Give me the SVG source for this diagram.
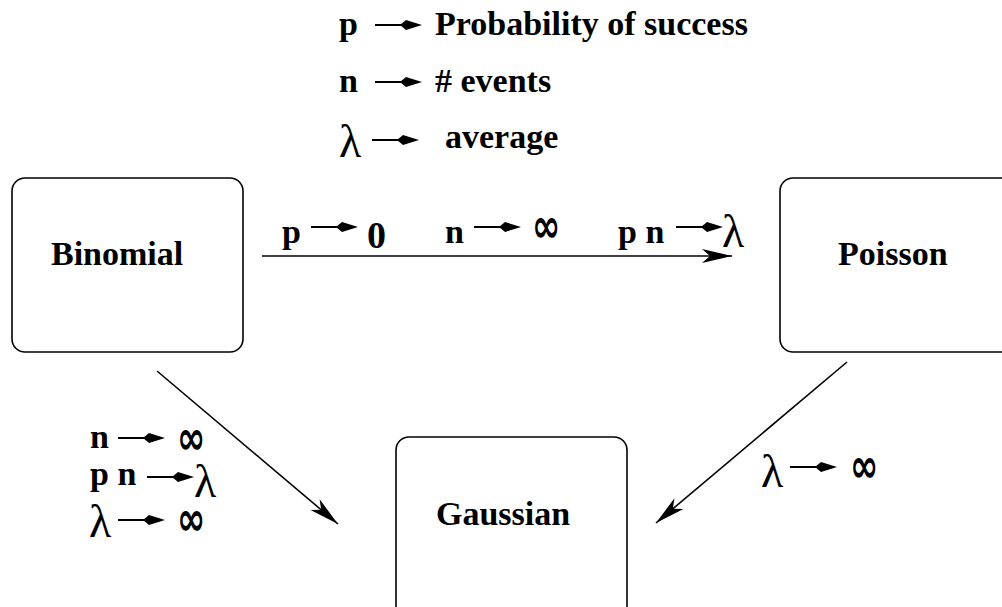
<svg xmlns="http://www.w3.org/2000/svg" xmlns:xlink="http://www.w3.org/1999/xlink" width="1002" height="607" viewBox="0 0 1002 607">
<style>
.b{font-family:"Liberation Serif","Times New Roman",serif;font-weight:bold;font-size:34px;fill:#000}
.z{font-family:"Liberation Serif","Times New Roman",serif;font-weight:bold;font-size:38px;fill:#000}
.l{font-family:"Liberation Serif","Times New Roman",serif;font-size:46px;fill:#000}
.inf{font-family:"DejaVu Sans",sans-serif;font-weight:bold;font-size:34px;fill:#000}
.box{fill:#fff;stroke:#000;stroke-width:1.6}
.conn{stroke:#000;stroke-width:1.6;fill:none}
</style>
<defs>
<marker id="ah" markerUnits="userSpaceOnUse" viewBox="-31 -8 32 16" markerWidth="32" markerHeight="16" refX="0" refY="0" orient="auto">
<path d="M0,0 L-30,-7 L-22,0 L-30,7 Z" fill="#000"/>
</marker>
<g id="to">
<line x1="0" y1="0" x2="44" y2="0" stroke="#000" stroke-width="1.8"/>
<polygon points="25,0 31,-5 47,0 31,5" fill="#000"/>
</g>
</defs>
<rect width="1002" height="607" fill="#fff"/>

<g id="legend">
<text class="b" x="339" y="35">p</text>
<use xlink:href="#to" x="375" y="25"/>
<text class="b" x="435" y="35">Probability of success</text>
<text class="b" x="339" y="92">n</text>
<use xlink:href="#to" x="375" y="82"/>
<text class="b" x="435" y="92"># events</text>
<text class="l" x="339" y="157">λ</text>
<use xlink:href="#to" x="372" y="140"/>
<text class="b" x="445" y="148">average</text>
</g>

<g id="binomial">
<rect class="box" x="12" y="178" width="231" height="174" rx="13"/>
<text class="b" x="51" y="265">Binomial</text>
</g>
<g id="poisson">
<rect class="box" x="780" y="178" width="240" height="174" rx="13"/>
<text class="b" x="838" y="265">Poisson</text>
</g>
<g id="gaussian">
<rect class="box" x="396" y="437" width="231" height="190" rx="13"/>
<text class="b" x="436" y="525">Gaussian</text>
</g>

<g id="connectors">
<line class="conn" x1="262" y1="256" x2="732" y2="256" marker-end="url(#ah)"/>
<line class="conn" x1="157" y1="371" x2="338" y2="524" marker-end="url(#ah)"/>
<line class="conn" x1="847" y1="362" x2="656" y2="523" marker-end="url(#ah)"/>
</g>

<g id="label-top">
<text class="b" x="282" y="243">p</text>
<use xlink:href="#to" x="311" y="227"/>
<text class="z" x="367" y="248">0</text>
<text class="b" x="445" y="243">n</text>
<use xlink:href="#to" x="474" y="227"/>
<text class="inf" transform="translate(532,227) scale(1,1.4)" x="0" y="10.5">∞</text>
<text class="b" x="618" y="243">p n</text>
<use xlink:href="#to" x="676" y="227"/>
<text class="l" x="722" y="247">λ</text>
</g>

<g id="label-left">
<text class="b" x="90" y="448">n</text>
<use xlink:href="#to" x="118" y="438"/>
<text class="inf" transform="translate(177,439) scale(1,1.4)" x="0" y="10.5">∞</text>
<text class="b" x="90" y="485">p n</text>
<use xlink:href="#to" x="147" y="477"/>
<text class="l" x="194" y="497">λ</text>
<text class="l" x="89" y="537">λ</text>
<use xlink:href="#to" x="118" y="520"/>
<text class="inf" transform="translate(177,520) scale(1,1.4)" x="0" y="10.5">∞</text>
</g>

<g id="label-right">
<text class="l" x="761" y="487">λ</text>
<use xlink:href="#to" x="790" y="467"/>
<text class="inf" transform="translate(850,467) scale(1,1.4)" x="0" y="10.5">∞</text>
</g>
</svg>
